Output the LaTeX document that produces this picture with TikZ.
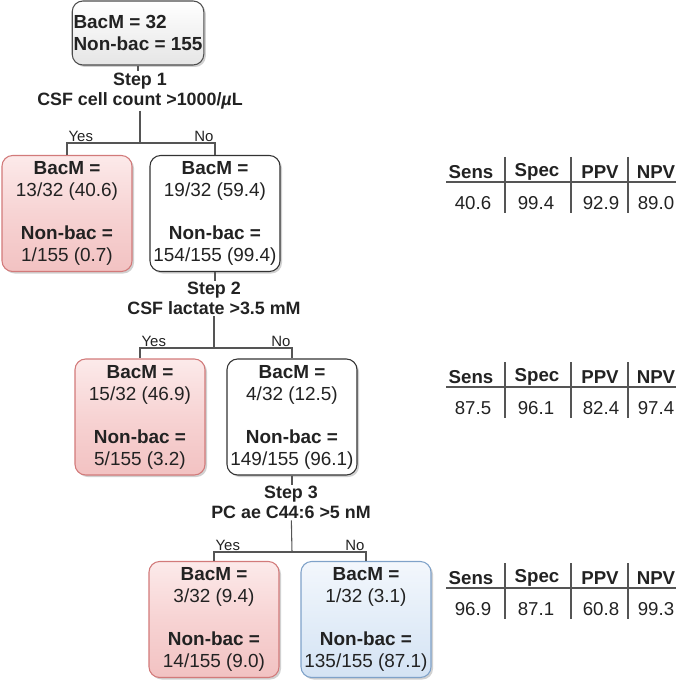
\documentclass[tikz,border=0pt]{standalone}
\usepackage{fontspec}
\setmainfont{Liberation Sans}
\usepackage{tikz}
\usetikzlibrary{positioning,shadows,calc}
\definecolor{YesTop}{HTML}{FCEAEA}
\definecolor{YesMid}{HTML}{F7D3D3}
\definecolor{YesBot}{HTML}{F2C2C2}
\definecolor{YesEdge}{HTML}{D27A7A}
\definecolor{NoTop}{HTML}{F3F7FC}
\definecolor{NoMid}{HTML}{E3EDF8}
\definecolor{NoBot}{HTML}{D4E3F4}
\definecolor{NoEdge}{HTML}{7FA2C9}
\definecolor{LineGray}{HTML}{555555}
\definecolor{TextDark}{HTML}{222222}

\begin{document}
\begin{tikzpicture}[x=0.75pt,y=-0.75pt,
    every node/.style={font=\fontsize{14.2}{16.5}\selectfont, text=TextDark},
    box/.style={draw, rounded corners=8pt, minimum width=97.5pt, minimum height=87pt,
      align=center, line width=0.8pt, inner sep=1pt,
      drop shadow={shadow xshift=1.5pt, shadow yshift=-1.5pt, fill=black!30, opacity=0.6}},
    rootbox/.style={box, draw=black!70, top color=white, bottom color=black!10,
      minimum height=48pt, align=left},
    posbox/.style={box, draw=YesEdge, top color=YesTop, bottom color=YesBot, middle color=YesMid},
    negbox/.style={box, draw=black!80, fill=white},
    endbox/.style={box, draw=NoEdge, top color=NoTop, bottom color=NoBot, middle color=NoMid},
    steptext/.style={font=\bfseries\fontsize{13.4}{15}\selectfont, align=center, inner sep=1pt},
    conn/.style={draw=LineGray, line width=0.8pt},
    ans/.style={font=\fontsize{11.2}{12}\selectfont, inner sep=1pt},
    head/.style={font=\bfseries\fontsize{14}{15}\selectfont},
    cell/.style={font=\fontsize{14}{15}\selectfont},
  ]
  \useasboundingbox (0,0) rectangle (685,681);

  % start
  \node[rootbox] (root) at (138,33) {\textbf{BacM = 32}\\\textbf{Non-bac = 155}};
  \node[steptext] (s1) at (140,91) {Step 1\\CSF cell count >1000/\textit{µ}L};
  \coordinate (j1) at (140,143);
  \node[posbox] (y1) at (67,213.5) {\textbf{BacM =}\\13/32 (40.6)\\[15.75pt]\textbf{Non-bac =}\\1/155 (0.7)};
  \node[negbox] (n1) at (215,213.5) {\textbf{BacM =}\\19/32 (59.4)\\[15.75pt]\textbf{Non-bac =}\\154/155 (99.4)};
  \draw[conn] (root) -- (root |- s1.north);
  \draw[conn] (s1) -- (j1);
  \draw[conn] (j1) -| (y1.north);
  \draw[conn] (j1) -| (n1.north);
  \node[ans, above right] (yes1) at (j1 -| y1.north) {Yes};
  \node[ans, above left] (no1) at (j1 -| n1.north) {No};

  % step 2
  \node[steptext] (s2) at (214,298.5) {Step 2\\CSF lactate >3.5 mM};
  \coordinate (j2) at (214,348);
  \node[posbox] (y2) at (140,417) {\textbf{BacM =}\\15/32 (46.9)\\[15.75pt]\textbf{Non-bac =}\\5/155 (3.2)};
  \node[negbox] (n2) at (292,417) {\textbf{BacM =}\\4/32 (12.5)\\[15.75pt]\textbf{Non-bac =}\\149/155 (96.1)};
  \draw[conn] (n1) -- (n1 |- s2.north);
  \draw[conn] (s2) -- (j2);
  \draw[conn] (j2) -| (y2.north);
  \draw[conn] (j2) -| (n2.north);
  \node[ans, above right] (yes2) at (j2 -| y2.north) {Yes};
  \node[ans, above left] (no2) at (j2 -| n2.north) {No};

  % step 3
  \node[steptext] (s3) at (291,502.5) {Step 3\\PC ae C44:6 >5 nM};
  \coordinate (j3) at (292,552);
  \node[posbox] (y3) at (214,619.5) {\textbf{BacM =}\\3/32 (9.4)\\[15.75pt]\textbf{Non-bac =}\\14/155 (9.0)};
  \node[endbox] (n3) at (366,619.5) {\textbf{BacM =}\\1/32 (3.1)\\[15.75pt]\textbf{Non-bac =}\\135/155 (87.1)};
  \draw[conn] (n2) -- (n2 |- s3.north);
  \draw[conn] (s3) -- (j3);
  \draw[conn] (j3) -| (y3.north);
  \draw[conn] (j3) -| (n3.north);
  \node[ans, above right] (yes3) at (j3 -| y3.north) {Yes};
  \node[ans, above left] (no3) at (j3 -| n3.north) {No};

  % tables
  \foreach \ty/\a/\b/\c/\d [count=\k] in {172/40.6/99.4/92.9/89.0,377/87.5/96.1/82.4/97.4,578/96.9/87.1/60.8/99.3} {
    \node[head] (sens\k) at (471,\ty) {Sens};
    \node[head] (spec\k) at (537,\ty) {Spec};
    \node[head] (ppv\k) at (600,\ty) {PPV};
    \node[head] (npv\k) at (656,\ty) {NPV};
    \node[cell] (vsens\k) at (473,{\ty+31}) {\a};
    \node[cell] (vspec\k) at (536,{\ty+31}) {\b};
    \node[cell] (vppv\k) at (601,{\ty+31}) {\c};
    \node[cell] (vnpv\k) at (656,{\ty+31}) {\d};
    \draw[conn] (446,{\ty+10}) -- (676,{\ty+10});
    \foreach \sx in {505,571,628}
      \draw[conn] (\sx,{\ty-15}) -- (\sx,{\ty+41});
  }
\end{tikzpicture}
\end{document}
